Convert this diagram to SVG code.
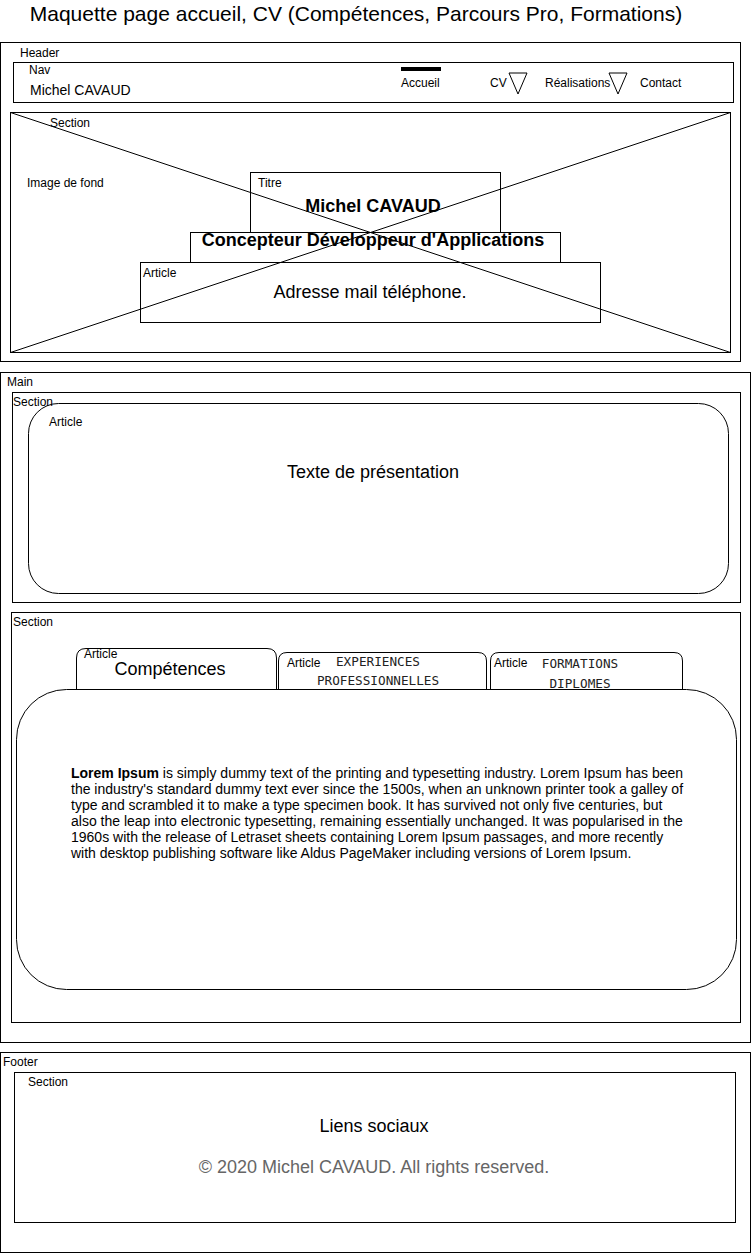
<svg xmlns="http://www.w3.org/2000/svg" width="751" height="1253" viewBox="0 0 751 1253">
<style>
text{font-family:"Liberation Sans",Arial,Helvetica,sans-serif;fill:#000}
.box{fill:#fff;stroke:#000;stroke-width:1}
.nf{fill:none;stroke:#000;stroke-width:1}
.lbl{font-size:12px}
.nv{font-size:12px}
.big{font-size:18px}
.mono{font-family:"DejaVu Sans Mono","Liberation Mono",monospace;font-size:12.7px;fill:#222}
.c{text-anchor:middle}
</style>
<rect width="751" height="1253" fill="#fff"/>
<text x="356" y="21" class="c" style="font-size:21px">Maquette page accueil, CV (Compétences, Parcours Pro, Formations)</text>

<g id="header">
<rect class="box" x="0.5" y="42.5" width="740" height="319"/>
<text x="20" y="57" class="lbl">Header</text>
</g>
<g id="nav">
<rect class="box" x="13.5" y="62.5" width="720" height="40"/>
<text x="29" y="74" class="lbl">Nav</text>
<text x="30" y="95" style="font-size:14px">Michel CAVAUD</text>
<rect x="401" y="67" width="40" height="4" fill="#000"/>
<text x="401" y="87" class="nv">Accueil</text>
<text x="490" y="87" class="nv">CV</text>
<path class="nf" d="M509,73 L527,73 L518,94 Z"/>
<text x="545" y="87" class="nv">Réalisations</text>
<path class="nf" d="M609,73 L627,73 L618,94 Z"/>
<text x="640" y="87" class="nv">Contact</text>
</g>
<g id="hero">
<rect class="box" x="10.5" y="112.5" width="720" height="240"/>
<text x="50" y="127" class="lbl">Section</text>
<text x="27" y="187" class="lbl">Image de fond</text>
</g>
<g id="titre">
<rect class="box" x="250.5" y="172.5" width="250" height="60"/>
<text x="258" y="187" class="lbl">Titre</text>
<text x="373" y="212" class="c big" style="font-weight:bold">Michel CAVAUD</text>
</g>
<g id="soustitre">
<rect class="box" x="190.5" y="232.5" width="370" height="30"/>
<text x="373" y="246" class="c big" style="font-weight:bold">Concepteur Développeur d'Applications</text>
</g>
<g id="contact">
<rect class="box" x="140.5" y="262.5" width="460" height="60"/>
<text x="143" y="277" class="lbl">Article</text>
<text x="370" y="298" class="c big">Adresse mail téléphone.</text>
</g>
<g id="cross">
<path class="nf" d="M10.5,112.5 L730.5,352.5 M10.5,352.5 L730.5,112.5"/>
</g>

<g id="main">
<rect class="box" x="0.5" y="372.5" width="750" height="670"/>
<text x="7" y="386" class="lbl">Main</text>
</g>
<g id="section-presentation">
<rect class="box" x="12.5" y="392.5" width="728" height="210"/>
<rect class="box" x="28.5" y="403.5" width="700" height="190" rx="30" ry="30"/>
<text x="13" y="406" class="lbl">Section</text>
<text x="49" y="426" class="lbl">Article</text>
<text x="373" y="478" class="c big">Texte de présentation</text>
</g>
<g id="section-cv">
<rect class="box" x="11.5" y="612.5" width="729" height="410"/>
<text x="13" y="626" class="lbl">Section</text>
</g>
<g id="tab-competences">
<path class="box" d="M76.5,690 L76.5,658 Q76.5,648.5 86,648.5 L267,648.5 Q276.5,648.5 276.5,658 L276.5,690"/>
<text x="84" y="658" class="lbl">Article</text>
<text x="170" y="675" class="c big">Compétences</text>
</g>
<g id="tab-experiences">
<path class="box" d="M278.5,690 L278.5,661 Q278.5,652.5 287,652.5 L478,652.5 Q486.5,652.5 486.5,661 L486.5,690"/>
<text x="287" y="667" class="lbl">Article</text>
<text x="378" y="666" class="mono c">EXPERIENCES</text>
<text x="378" y="685" class="mono c">PROFESSIONNELLES</text>
</g>
<g id="tab-formations">
<path class="box" d="M490.5,690 L490.5,661 Q490.5,652.5 499,652.5 L674,652.5 Q682.5,652.5 682.5,661 L682.5,690"/>
<text x="494" y="667" class="lbl">Article</text>
<text x="580" y="668" class="mono c">FORMATIONS</text>
<text x="580" y="688" class="mono c">DIPLOMES</text>
</g>
<g id="content">
<rect class="box" x="16.5" y="689.5" width="720" height="300" rx="50" ry="50"/>
<line class="nf" x1="76.5" y1="689.5" x2="276.5" y2="689.5"/>
<text style="font-size:14px">
<tspan x="71" y="778"><tspan style="font-weight:bold">Lorem Ipsum</tspan> is simply dummy text of the printing and typesetting industry. Lorem Ipsum has been</tspan>
<tspan x="71" y="794">the industry's standard dummy text ever since the 1500s, when an unknown printer took a galley of</tspan>
<tspan x="71" y="810">type and scrambled it to make a type specimen book. It has survived not only five centuries, but</tspan>
<tspan x="71" y="826">also the leap into electronic typesetting, remaining essentially unchanged. It was popularised in the</tspan>
<tspan x="71" y="842">1960s with the release of Letraset sheets containing Lorem Ipsum passages, and more recently</tspan>
<tspan x="71" y="858">with desktop publishing software like Aldus PageMaker including versions of Lorem Ipsum.</tspan>
</text>
</g>

<g id="footer">
<rect class="box" x="0.5" y="1052.5" width="750" height="200"/>
<text x="3" y="1066" class="lbl">Footer</text>
</g>
<g id="footer-section">
<rect class="box" x="14.5" y="1072.5" width="721" height="150"/>
<text x="28" y="1086" class="lbl">Section</text>
<text x="374" y="1132" class="c big">Liens sociaux</text>
<text x="374" y="1173" class="c big" style="fill:#666">© 2020 Michel CAVAUD. All rights reserved.</text>
</g>
</svg>
